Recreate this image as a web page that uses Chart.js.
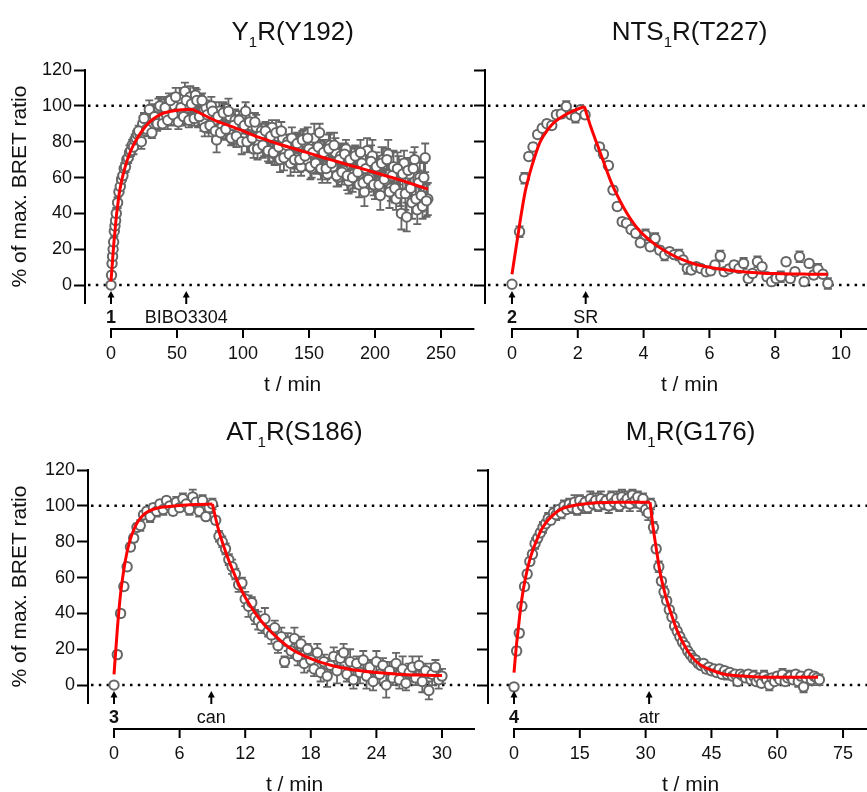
<!DOCTYPE html>
<html>
<head>
<meta charset="utf-8">
<script src="https://cdn.jsdelivr.net/npm/chart.js@4.4.0/dist/chart.umd.min.js"></script>
<style>
  body { margin: 0; background: #fff; }
  #wrap { position: relative; width: 867px; height: 792px; overflow: hidden; }
  canvas { position: absolute; }
</style>
</head>
<body>
<div id="wrap">
  <canvas id="c1"></canvas>
  <canvas id="c2"></canvas>
  <canvas id="c3"></canvas>
  <canvas id="c4"></canvas>
</div>
<script>
// ---- data ----
const yTicks = [0, 20, 40, 60, 80, 100, 120];
const refLines = [0, 100];

// Y1R(Y192): early + even-minute readings, then the odd-minute readings in between
const x1Ticks = [0, 50, 100, 150, 200, 250];
const t1Main = [0, 0.4, 0.8, 1.2, 1.6, 2, 2.5, 3, 3.5, 4,
  5, 6, 7, 8, 9, 10, 11, 12, 13, 14,
  15, 16, 17, 18, 19, 20, 22, 24, 26, 28,
  30, 32, 34, 36, 38, 40, 42, 44, 46, 48,
  50, 52, 54, 56, 58, 60, 62, 64, 66, 68,
  70, 72, 74, 76, 78, 80, 82, 84, 86, 88,
  90, 92, 94, 96, 98, 100, 102, 104, 106, 108,
  110, 112, 114, 116, 118, 120, 122, 124, 126, 128,
  130, 132, 134, 136, 138, 140, 142, 144, 146, 148,
  150, 152, 154, 156, 158, 160, 162, 164, 166, 168,
  170, 172, 174, 176, 178, 180, 182, 184, 186, 188,
  190, 192, 194, 196, 198, 200, 202, 204, 206, 208,
  210, 212, 214, 216, 218, 220, 222, 224, 226, 228,
  230, 232, 234, 236, 238, 240];
const v1Main = [0, 5.5, 12, 16, 20, 24, 30, 33, 36, 40,
  46, 52, 55, 59, 61, 65, 66, 70, 71, 74,
  75, 78, 77, 81, 82, 84, 84, 90, 86, 94,
  89, 97, 91, 99, 93, 101, 95, 103, 92, 100,
  96, 104, 93, 108, 99, 105, 101, 106, 94, 103,
  91, 99, 89, 100, 92, 81, 97, 88, 95, 86,
  94, 84, 92, 85, 90, 82, 97, 80, 89, 76,
  88, 79, 86, 78, 85, 75, 88, 73, 83, 70,
  82, 74, 80, 68, 79, 71, 78, 66, 80, 70,
  76, 65, 82, 68, 85, 64, 75, 62, 78, 66,
  74, 60, 72, 64, 76, 58, 70, 62, 72, 56,
  68, 52, 75, 60, 72, 55, 66, 50, 70, 58,
  73, 54, 66, 48, 64, 40, 68, 38, 62, 46,
  70, 42, 60, 44, 71, 48];
const e1Main = [1, 2, 2, 2, 3, 2, 3, 2, 3, 3,
  3, 2, 3, 3, 2, 3, 3, 2, 3, 4,
  3, 3, 4, 3, 4, 3, 3, 4, 3, 5,
  3, 4, 4, 5, 3, 4, 5, 4, 3, 5,
  4, 6, 4, 5, 4, 6, 5, 4, 6, 3,
  5, 4, 6, 5, 4, 7, 5, 4, 6, 5,
  4, 5, 6, 4, 5, 4, 5, 6, 4, 5,
  7, 5, 4, 6, 5, 7, 4, 6, 5, 7,
  5, 6, 4, 7, 5, 6, 6, 5, 7, 4,
  6, 5, 8, 6, 5, 7, 6, 5, 7, 6,
  8, 5, 7, 6, 5, 7, 6, 8, 5, 7,
  6, 8, 7, 6, 9, 7, 6, 8, 7, 6,
  8, 7, 9, 6, 8, 9, 7, 8, 6, 9,
  7, 8, 9, 7, 8, 9];
const t1Odd = [21, 23, 25, 27, 29, 31, 33, 35, 37, 39,
  41, 43, 45, 47, 49, 51, 53, 55, 57, 59,
  61, 63, 65, 67, 69, 71, 73, 75, 77, 79,
  81, 83, 85, 87, 89, 91, 93, 95, 97, 99,
  101, 103, 105, 107, 109, 111, 113, 115, 117, 119,
  121, 123, 125, 127, 129, 131, 133, 135, 137, 139,
  141, 143, 145, 147, 149, 151, 153, 155, 157, 159,
  161, 163, 165, 167, 169, 171, 173, 175, 177, 179,
  181, 183, 185, 187, 189, 191, 193, 195, 197, 199,
  201, 203, 205, 207, 209, 211, 213, 215, 217, 219,
  221, 223, 225, 227, 229, 231, 233, 235, 237, 239];
const v1Odd = [86, 80, 93, 87, 98, 85, 94, 90, 100, 90,
  99, 92, 103, 95, 105, 91, 99, 94, 103, 92,
  101, 93, 103, 94, 103, 88, 95, 89, 97, 86,
  94, 85, 96, 87, 97, 82, 89, 83, 92, 80,
  89, 80, 91, 82, 91, 76, 83, 78, 86, 75,
  83, 74, 85, 77, 86, 71, 78, 73, 82, 70,
  79, 70, 81, 72, 82, 66, 74, 68, 77, 65,
  74, 65, 76, 68, 78, 61, 70, 63, 73, 61,
  70, 60, 72, 63, 74, 57, 65, 59, 69, 56,
  66, 56, 68, 59, 70, 52, 61, 54, 65, 51,
  62, 51, 64, 54, 65, 48, 57, 50, 60, 47];
const e1Odd = [3, 4, 3, 4, 5, 3, 4, 4, 5, 3,
  4, 5, 4, 3, 5, 4, 5, 4, 6, 4,
  5, 4, 6, 5, 4, 5, 6, 4, 5, 6,
  5, 4, 6, 5, 7, 4, 5, 6, 5, 7,
  4, 6, 5, 7, 5, 6, 4, 7, 5, 6,
  6, 5, 7, 6, 5, 7, 6, 5, 6, 7,
  6, 7, 5, 8, 6, 7, 6, 5, 8, 6,
  7, 6, 8, 5, 7, 6, 8, 7, 6, 8,
  7, 8, 6, 9, 7, 6, 8, 7, 9, 6,
  8, 7, 9, 8, 6, 9, 7, 8, 9, 7,
  8, 9, 7, 8, 9, 8, 7, 9, 8, 9];
const fit1RiseT = [0, 1, 2, 3, 4, 5, 6, 8, 10, 12, 15, 20, 25, 30, 35, 40, 50, 62];
const fit1RiseV = [2, 12, 22, 30, 38, 44, 50, 58, 64, 69, 75, 82, 87.5, 91.5, 94.2, 96, 97.6, 98];
const fit1DecayT = [62, 70, 80, 90, 100, 110, 120, 130, 140, 150, 160, 170, 180, 190, 200, 210, 220, 230, 240];
const fit1DecayV = [98, 95, 91.5, 88.8, 86, 83, 80.5, 78, 75.8, 73.6, 71.3, 69.2, 67, 65, 62.8, 60.6, 58.4, 56, 53.5];
const arrow1X = [0, 57];
const arrow1Labels = ['1', 'BIBO3304'];

// NTS1R(T227)
const x2Ticks = [0, 2, 4, 6, 8, 10];
const t2 = [0, 0.23, 0.38, 0.51, 0.64, 0.78, 0.92, 1.06, 1.21, 1.35,
  1.50, 1.65, 1.79, 1.93, 2.08, 2.22, 2.66, 2.78, 2.93, 3.07,
  3.20, 3.35, 3.48, 3.62, 3.76, 3.90, 4.06, 4.20, 4.35, 4.49,
  4.64, 4.79, 4.93, 5.08, 5.20, 5.33, 5.45, 5.60, 5.74, 5.90,
  6.04, 6.17, 6.33, 6.45, 6.60, 6.75, 6.90, 7.04, 7.18, 7.31,
  7.46, 7.60, 7.75, 7.89, 8.03, 8.17, 8.33, 8.46, 8.60, 8.74,
  8.88, 9.03, 9.17, 9.30, 9.45, 9.60];
const v2 = [0.5, 29.8, 59.6, 71.7, 77, 84, 87.5, 90, 89, 95,
  95.5, 99.6, 95, 93.7, 97.8, 95, 77, 73, 66.7, 53,
  43.8, 35.4, 34.5, 31, 28.9, 23.6, 28, 21.4, 26, 19.5,
  16.8, 18.6, 17, 16.8, 14, 9.3, 8.4, 10.2, 9.3, 7.4,
  8, 11.2, 16.2, 7.4, 9, 11.2, 9.3, 12.1, 3.7, 6.5,
  13, 10.2, 4.7, 1.9, 3.7, 4.7, 13, 3.7, 7.4, 15.8,
  1.9, 12.1, 5.6, 8.8, 6, 0.9];
const e2 = [1, 3, 3, 2, 2, 2, 2, 2, 2, 2,
  2, 3, 2, 3, 2, 2, 2, 2, 2, 2,
  2, 2, 2, 2, 2, 2, 3, 2, 3, 2,
  3, 2, 2, 3, 2, 3, 2, 2, 2, 2,
  2, 2, 3, 2, 2, 2, 2, 3, 2, 2,
  3, 2, 2, 2, 2, 3, 2, 2, 2, 3,
  2, 2, 2, 3, 2, 3];
const fit2RiseT = [0, 0.1, 0.25, 0.4, 0.55, 0.7, 0.86, 1.1, 1.3, 1.57, 1.9, 2.2];
const fit2RiseV = [6, 18, 36, 52, 63, 72, 80, 87, 91, 94.5, 97.5, 99.6];
const fit2DecayT = [2.2, 2.4, 2.6, 2.8, 3.0, 3.2, 3.4, 3.6, 3.8, 4.0, 4.4, 4.8, 5.2, 5.6, 6.0, 6.5, 7.0, 7.5, 8.0, 8.5, 9.0, 9.6];
const fit2DecayV = [99.6, 88, 78, 68, 58, 50, 43, 37, 32, 28, 22, 17.5, 14, 11.5, 10, 8.5, 7.4, 6.8, 6.4, 6.2, 6.1, 6];
const arrow2X = [0, 2.24];
const arrow2Labels = ['2', 'SR'];

// AT1R(S186)
const x3Ticks = [0, 6, 12, 18, 24, 30];
const t3 = [0, 0.3, 0.6, 0.9, 1.2, 1.5, 1.8, 2.1, 2.4, 2.7,
  3, 3.3, 3.6, 3.9, 4.2, 4.5, 4.8, 5.1, 5.4, 5.7,
  6, 6.3, 6.6, 6.9, 7.2, 7.5, 7.8, 8.1, 8.4, 8.7,
  9, 9.3, 9.6, 9.9, 10.2, 10.5, 10.8, 11.1, 11.4, 11.7,
  12, 12.3, 12.6, 12.9, 13.2, 13.5, 13.8, 14.1, 14.4, 14.7,
  15, 15.3, 15.6, 15.9, 16.2, 16.5, 16.8, 17.1, 17.4, 17.7,
  18, 18.3, 18.6, 18.9, 19.2, 19.5, 19.8, 20.1, 20.4, 20.7,
  21, 21.3, 21.6, 21.9, 22.2, 22.5, 22.8, 23.1, 23.4, 23.7,
  24, 24.3, 24.6, 24.9, 25.2, 25.5, 25.8, 26.1, 26.4, 26.7,
  27, 27.3, 27.6, 27.9, 28.2, 28.5, 28.8, 29.1, 29.4, 29.7,
  30];
const v3 = [0, 17, 40, 55, 66, 77, 82, 88, 89, 95,
  97, 94, 99, 97, 101, 98, 103, 100, 97, 102,
  99, 104, 101, 98, 105, 102, 97, 103, 94, 99,
  101, 92, 83, 80, 76, 70, 66, 62, 56, 57,
  48, 44, 46, 38, 36, 33, 37, 30, 28, 32,
  22, 27, 13, 24, 19, 26, 16, 23, 12, 20,
  14, 9, 18, 7, 13, 5, 11, 16, 8, 15,
  18, 6, 13, 3, 12, 7, 14, 5, 10, 2,
  13, 6, 11, 0, 8, 4, 12, 3, 9, 1,
  7, 10, 4, 11, 2, 8, -3, 6, 10, 3,
  5];
const e3 = [1, 2, 2, 2, 2, 2, 2, 2, 3, 2,
  2, 3, 2, 3, 2, 3, 2, 3, 2, 3,
  2, 3, 2, 3, 4, 2, 3, 3, 2, 3,
  3, 2, 3, 3, 3, 3, 4, 3, 4, 3,
  4, 6, 3, 4, 5, 4, 6, 3, 5, 4,
  4, 5, 3, 5, 4, 6, 5, 4, 5, 3,
  6, 4, 5, 5, 4, 6, 4, 5, 7, 4,
  5, 4, 7, 5, 4, 6, 5, 7, 4, 5,
  6, 5, 4, 7, 5, 4, 6, 5, 7, 4,
  5, 6, 4, 5, 6, 4, 5, 6, 4, 5,
  4];
const fit3RiseT = [0, 0.3, 0.6, 0.9, 1.2, 1.5, 1.8, 2.1, 2.4, 2.7, 3.0, 3.5, 4.0, 5.0, 6.0, 7.5, 9.0];
const fit3RiseV = [6, 31, 51, 64.5, 74.5, 81.5, 86.5, 90.4, 93, 95, 96.4, 97.9, 98.8, 99.6, 100.2, 100.7, 101];
const fit3DecayT = [9, 9.5, 10, 10.5, 11, 11.5, 12, 12.5, 13, 13.5, 14, 15, 16, 17, 18, 19, 20, 21, 22, 24, 26, 28, 30];
const fit3DecayV = [101, 88, 78, 69.5, 62, 55, 49, 44, 39.5, 35.5, 32, 26, 21, 17.5, 14.7, 12.5, 10.8, 9.5, 8.4, 7, 6.1, 5.6, 5.3];
const arrow3X = [0, 8.9];
const arrow3Labels = ['3', 'can'];

// M1R(G176)
const x4Ticks = [0, 15, 30, 45, 60, 75];
const t4 = [0, 0.6, 1.2, 1.8, 2.4, 3, 3.6, 4.2, 4.8, 5.4,
  6, 6.6, 7.2, 7.8, 8.4, 9, 9.6, 10.2, 10.8, 11.4,
  12, 12.6, 13.2, 13.8, 14.4, 15, 15.6, 16.2, 16.8, 17.4,
  18, 18.6, 19.2, 19.8, 20.4, 21, 21.6, 22.2, 22.8, 23.4,
  24, 24.6, 25.2, 25.8, 26.4, 27, 27.6, 28.2, 28.8, 29.4,
  30, 30.6, 31.2, 31.8, 32.4, 33, 33.6, 34.2, 34.8, 35.4,
  36, 36.6, 37.2, 37.8, 38.4, 39, 39.6, 40.2, 40.8, 41.4,
  42, 42.6, 43.2, 43.8, 44.4, 45, 45.6, 46.2, 46.8, 47.4,
  48, 48.6, 49.2, 49.8, 50.4, 51, 51.6, 52.2, 52.8, 53.4,
  54, 54.6, 55.2, 55.8, 56.4, 57, 57.6, 58.2, 58.8, 59.4,
  60, 60.6, 61.2, 61.8, 62.4, 63, 63.6, 64.2, 64.8, 65.4,
  66, 66.6, 67.2, 67.8, 68.4, 69, 69.6];
const v4 = [-1, 19, 29, 44, 55, 62, 69, 73, 79, 82,
  85, 88, 90, 93, 92, 96, 95, 98, 96, 100,
  98, 101, 99, 102, 98, 103, 100, 102, 99, 104,
  101, 103, 100, 104, 101, 103, 100, 105, 102, 104,
  100, 105, 102, 104, 101, 106, 103, 105, 101, 104,
  98, 96, 101, 88, 76, 66, 58, 52, 47, 42,
  38, 33, 30, 27, 24, 22, 19, 17, 15, 14,
  12, 11, 12, 9, 10, 8, 9, 7, 9, 6,
  8, 6, 7, 5, 6, 2, 6, 5, 4, 6,
  3, 5, 2, 4, 1, 5, 3, 0, 4, 2,
  5, 3, 6, 2, 4, 5, 3, 6, 2, 5,
  -1, 4, 6, 3, 5, 4, 3];
const e4 = [1, 2, 2, 2, 2, 2, 2, 2, 3, 2,
  2, 3, 2, 3, 2, 3, 3, 2, 3, 3,
  2, 3, 3, 4, 3, 3, 4, 3, 3, 4,
  3, 4, 3, 4, 3, 3, 4, 3, 4, 4,
  3, 4, 3, 4, 4, 3, 4, 3, 4, 3,
  3, 4, 3, 3, 2, 3, 2, 3, 2, 2,
  2, 2, 2, 2, 2, 2, 2, 2, 2, 2,
  2, 2, 2, 2, 2, 2, 2, 2, 2, 2,
  2, 3, 2, 2, 2, 2, 2, 3, 2, 2,
  2, 3, 2, 2, 2, 3, 2, 3, 2, 2,
  2, 2, 3, 2, 2, 3, 2, 2, 3, 2,
  3, 2, 2, 3, 2, 2, 3];
const fit4RiseT = [0, 0.5, 1, 1.5, 2.1, 2.8, 3.6, 4.4, 5.2, 6.2, 7.4, 8.5, 9.7, 11, 12.8, 15, 18.8, 24, 31];
const fit4RiseV = [7, 21, 32, 43, 53, 62, 70, 76, 81, 86.5, 91, 94, 96.6, 98.5, 99.8, 100.8, 101.7, 102, 102];
const fit4DecayT = [31, 31.7, 32.5, 33.2, 34, 35, 36, 37, 38, 39, 40, 41.6, 43, 45.4, 48, 52, 57, 63, 69.3];
const fit4DecayV = [102, 88, 75, 64, 55, 46, 38.5, 31.5, 26, 21.5, 17.5, 13, 10.5, 8, 6, 5, 4.4, 4.3, 4.3];
const arrow4X = [0, 30.8];
const arrow4Labels = ['4', 'atr'];

// ---- styling ----
const FONT = "'Liberation Sans', Arial, Helvetica, sans-serif";
const ink = '#111';
const pointGrey = '#666';
const fitRed = '#ff0000';
Chart.defaults.font.family = FONT;
Chart.defaults.color = ink;

const panels = [
  { canvas: 'c1', box: [0, 0, 480, 400], yAxisW: 85, padRight: 5.6, xRange: [-19.7, 275.3], xTicks: x1Ticks,
    yLabels: true, title: ['Y', '1', 'R(Y192)'],
    t: t1Main.concat(t1Odd), v: v1Main.concat(v1Odd), e: e1Main.concat(e1Odd),
    fits: [[fit1RiseT, fit1RiseV], [fit1DecayT, fit1DecayV]], arrows: arrow1X, arrowLabels: arrow1Labels },
  { canvas: 'c2', box: [432, 0, 435, 400], yAxisW: 53, padRight: 0, xRange: [-0.82, 10.79], xTicks: x2Ticks,
    yLabels: false, title: ['NTS', '1', 'R(T227)'], t: t2, v: v2, e: e2,
    fits: [[fit2RiseT, fit2RiseV], [fit2DecayT, fit2DecayV]], arrows: arrow2X, arrowLabels: arrow2Labels },
  { canvas: 'c3', box: [0, 400, 480, 392], yAxisW: 88, padRight: 5, xRange: [-2.38, 33.02], xTicks: x3Ticks,
    yLabels: true, title: ['AT', '1', 'R(S186)'], t: t3, v: v3, e: e3,
    fits: [[fit3RiseT, fit3RiseV], [fit3DecayT, fit3DecayV]], arrows: arrow3X, arrowLabels: arrow3Labels },
  { canvas: 'c4', box: [432, 400, 435, 392], yAxisW: 56, padRight: 0, xRange: [-5.93, 80.46], xTicks: x4Ticks,
    yLabels: false, title: ['M', '1', 'R(G176)'], t: t4, v: v4, e: e4,
    fits: [[fit4RiseT, fit4RiseV], [fit4DecayT, fit4DecayV]], arrows: arrow4X, arrowLabels: arrow4Labels }
];

// draws the dotted guides, error bars, detached x axis, titles and arrows
function makeDecor(p) {
  return {
    id: 'decor',
    beforeDatasetsDraw(chart) {
      const { ctx, chartArea: a, scales: { x, y } } = chart;
      ctx.save();
      ctx.strokeStyle = '#000';
      ctx.lineWidth = 2.5;
      ctx.setLineDash([2.5, 5.3]);
      refLines.forEach(val => {
        const py = y.getPixelForValue(val);
        ctx.beginPath();
        ctx.moveTo(a.left + 3, py);
        ctx.lineTo(a.right, py);
        ctx.stroke();
      });
      ctx.setLineDash([]);
      ctx.strokeStyle = pointGrey;
      ctx.lineWidth = 1.8;
      ctx.beginPath();
      p.t.forEach((tt, i) => {
        const px = x.getPixelForValue(tt);
        const hi = y.getPixelForValue(p.v[i] + p.e[i]);
        const lo = y.getPixelForValue(p.v[i] - p.e[i]);
        ctx.moveTo(px, hi); ctx.lineTo(px, lo);
        ctx.moveTo(px - 4, hi); ctx.lineTo(px + 4, hi);
        ctx.moveTo(px - 4, lo); ctx.lineTo(px + 4, lo);
      });
      ctx.stroke();
      ctx.restore();
    },
    afterDraw(chart) {
      const { ctx, chartArea: a, scales: { x } } = chart;
      const x0 = x.getPixelForValue(0);
      const axisY = a.bottom + 26;
      ctx.save();
      // detached x axis
      ctx.strokeStyle = '#000';
      ctx.lineWidth = 2;
      ctx.beginPath();
      ctx.moveTo(x0 - 1, axisY);
      ctx.lineTo(a.right, axisY);
      x.ticks.forEach(tk => {
        const px = x.getPixelForValue(tk.value);
        ctx.moveTo(px, axisY);
        ctx.lineTo(px, axisY + 9);
      });
      ctx.stroke();

      const cx = (x0 + a.right) / 2;
      ctx.fillStyle = ink;
      ctx.textBaseline = 'alphabetic';
      ctx.textAlign = 'center';
      ctx.font = `21px ${FONT}`;
      ctx.fillText('t / min', cx, 391);

      // panel title with subscript
      const [main, sub, rest] = p.title;
      ctx.font = `26px ${FONT}`;
      const w1 = ctx.measureText(main).width;
      const w3 = ctx.measureText(rest).width;
      ctx.font = `15px ${FONT}`;
      const w2 = ctx.measureText(sub).width;
      const sx = cx - (w1 + w2 + w3) / 2;
      ctx.textAlign = 'left';
      ctx.font = `26px ${FONT}`;
      ctx.fillText(main, sx, 40);
      ctx.font = `15px ${FONT}`;
      ctx.fillText(sub, sx + w1, 47);
      ctx.font = `26px ${FONT}`;
      ctx.fillText(rest, sx + w1 + w2, 40);

      // addition arrows
      p.arrows.forEach((ax, i) => {
        const px = x.getPixelForValue(ax);
        const tip = a.bottom - 12;
        ctx.fillStyle = '#000';
        ctx.beginPath();
        ctx.moveTo(px, tip);
        ctx.lineTo(px - 3.5, tip + 6.5);
        ctx.lineTo(px + 3.5, tip + 6.5);
        ctx.closePath();
        ctx.fill();
        ctx.fillRect(px - 1, tip + 5, 2, 8);
        ctx.font = (i === 0 ? 'bold ' : '') + `18px ${FONT}`;
        ctx.textAlign = 'center';
        ctx.fillStyle = ink;
        ctx.fillText(p.arrowLabels[i], px, a.bottom + 20);
      });
      ctx.restore();
    }
  };
}

panels.forEach(p => {
  const cv = document.getElementById(p.canvas);
  cv.width = p.box[2];
  cv.height = p.box[3];
  cv.style.left = p.box[0] + 'px';
  cv.style.top = p.box[1] + 'px';

  const datasets = p.fits.map(([ft, fv]) => ({
    type: 'line',
    data: ft.map((tt, i) => ({ x: tt, y: fv[i] })),
    borderColor: fitRed,
    borderWidth: 3,
    pointRadius: 0,
    cubicInterpolationMode: 'monotone',
    order: 0
  }));
  datasets.push({
    type: 'scatter',
    data: p.t.map((tt, i) => ({ x: tt, y: p.v[i] })),
    pointRadius: 4.7,
    pointBorderWidth: 2,
    pointBorderColor: pointGrey,
    pointBackgroundColor: '#fff',
    order: 1
  });

  new Chart(cv, {
    type: 'scatter',
    data: { datasets },
    options: {
      responsive: false,
      animation: false,
      events: [],
      layout: { autoPadding: false, padding: { top: 70, right: p.padRight, left: 0, bottom: 0 } },
      plugins: { legend: { display: false }, tooltip: { enabled: false } },
      scales: {
        x: {
          type: 'linear',
          min: p.xRange[0],
          max: p.xRange[1],
          afterBuildTicks: s => { s.ticks = p.xTicks.map(v => ({ value: v })); },
          afterFit: s => { s.height = p.box[3] - 303; s.paddingLeft = 0; s.paddingRight = 0; },
          // invisible long tick marks push the labels down under the detached axis
          grid: { display: true, drawOnChartArea: false, drawTicks: true, tickLength: 40, tickColor: 'rgba(0,0,0,0)' },
          border: { display: false },
          ticks: { padding: 0, color: ink, font: { size: 18 }, maxRotation: 0, autoSkip: false }
        },
        y: {
          min: -10,
          max: 120,
          afterBuildTicks: s => { s.ticks = yTicks.map(v => ({ value: v })); },
          afterFit: s => { s.width = p.yAxisW; s.paddingTop = 0; s.paddingBottom = 0; },
          grid: { drawOnChartArea: false, tickLength: 11, tickWidth: 2, tickColor: '#000' },
          border: { color: '#000', width: 2 },
          ticks: { display: p.yLabels, padding: 2, color: ink, font: { size: 18 } },
          title: { display: p.yLabels, text: '% of max. BRET ratio', color: ink, font: { size: 21 }, padding: { top: 8 } }
        }
      }
    },
    plugins: [makeDecor(p)]
  });
});
</script>
</body>
</html>
